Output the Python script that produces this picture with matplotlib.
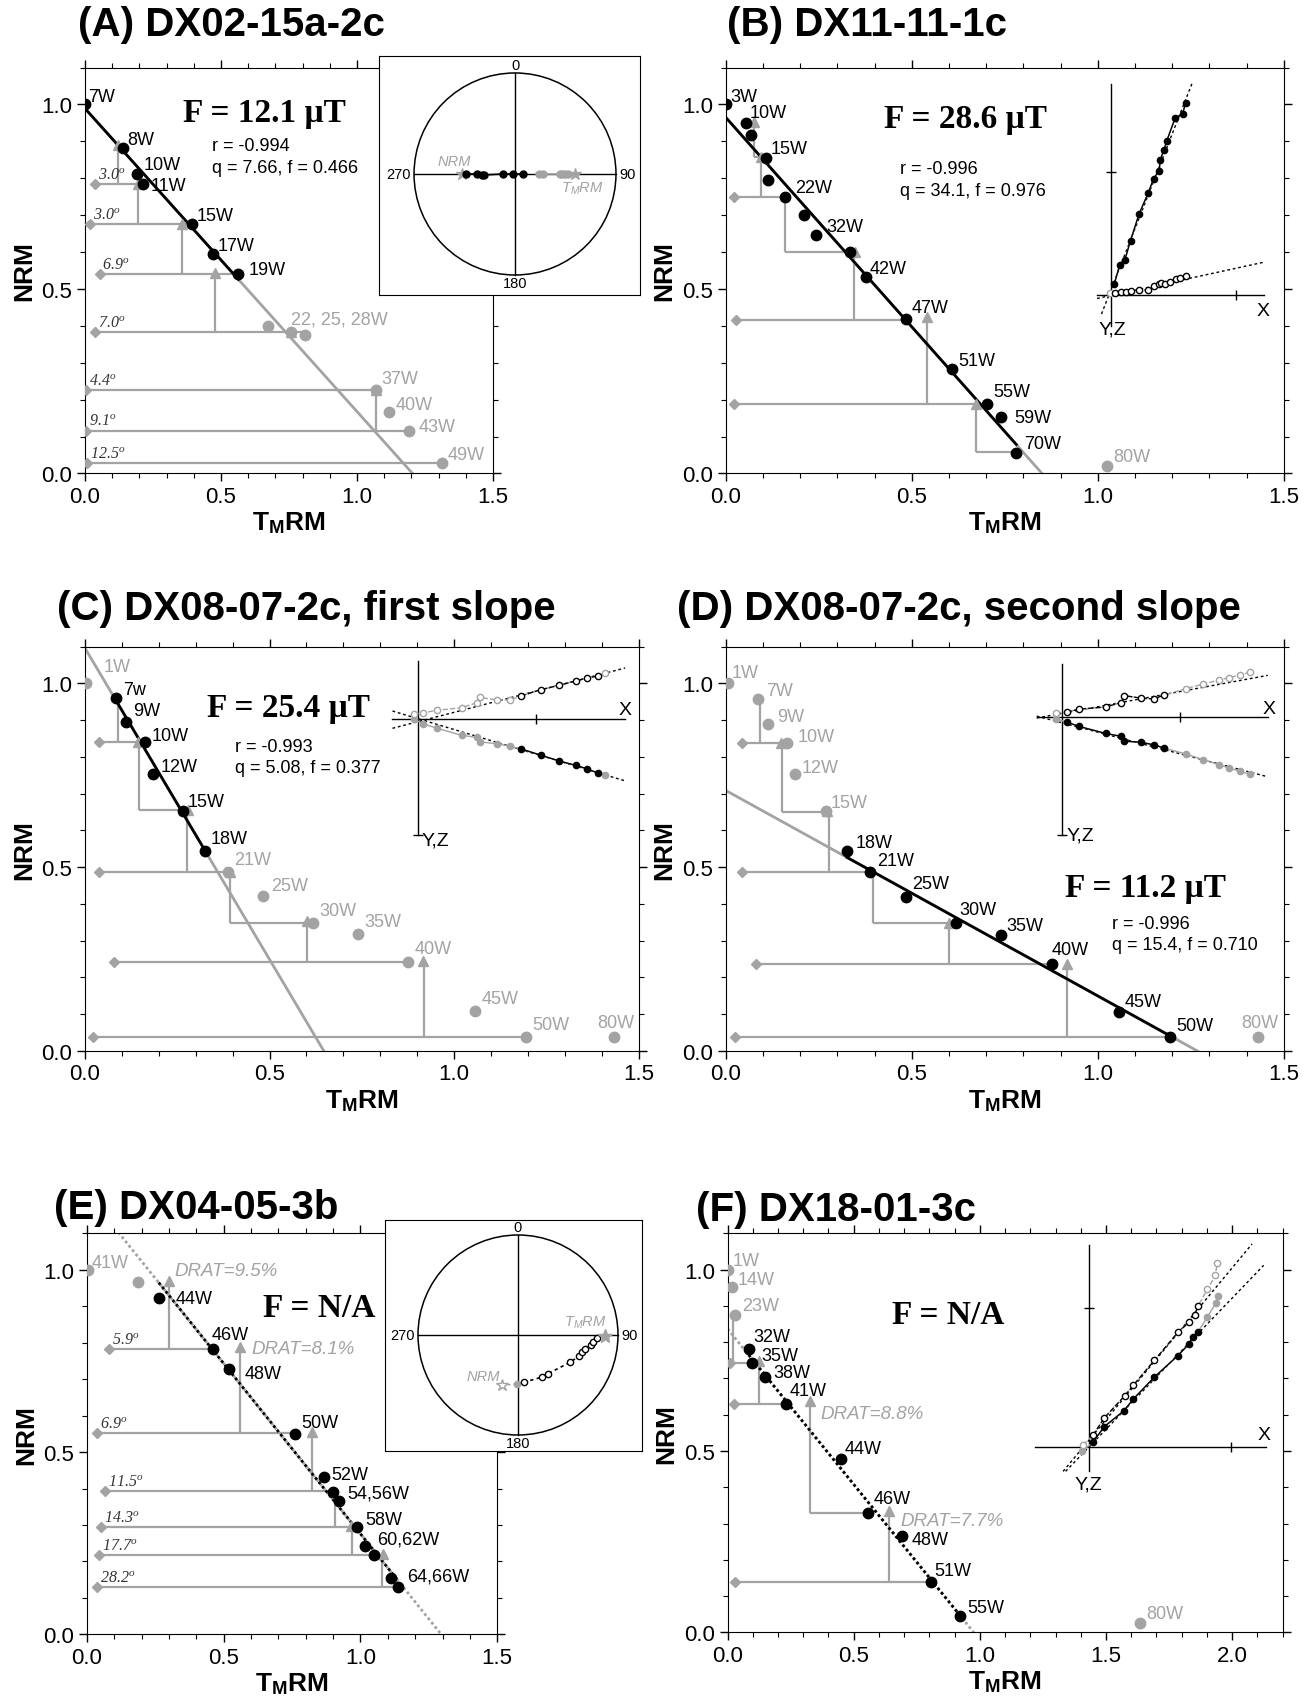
import numpy as np
import matplotlib
matplotlib.use("Agg")
import matplotlib.pyplot as plt
from matplotlib.patches import Circle
from matplotlib.ticker import MultipleLocator, FormatStrFormatter

plt.rcParams["font.family"] = ["Liberation Sans", "DejaVu Sans"]
plt.rcParams["mathtext.fontset"] = "custom"
# digits inside math fall back to "rm": make that the italic serif used for the angle labels
plt.rcParams["mathtext.rm"] = "Liberation Serif:italic"
plt.rcParams["mathtext.it"] = "Liberation Serif:italic"
plt.rcParams["mathtext.bf"] = "Liberation Sans:bold"
plt.rcParams["mathtext.sf"] = "Liberation Sans:italic"

GRAY = "#a3a3a3"
W, H = 1311, 1706

# ---------------- (A) DX02-15a-2c ----------------
a_used_x = [0.0, 0.141, 0.192, 0.212, 0.394, 0.472, 0.564]
a_used_y = [1.0, 0.883, 0.811, 0.783, 0.675, 0.594, 0.540]
a_used_lab = ["7W", "8W", "10W", "11W", "15W", "17W", "19W"]
a_other_x = [0.672, 0.757, 0.810, 1.071, 1.117, 1.193, 1.311]
a_other_y = [0.399, 0.383, 0.374, 0.226, 0.167, 0.116, 0.027]
a_other_lab = ["22, 25, 28W", "", "", "37W", "40W", "43W", "49W"]
a_fit = (0.989, 1.204, [0.0, 0.564])
a_tri_x = [0.120, 0.196, 0.358, 0.479, 0.759, 1.071]
a_tri_y = [0.891, 0.783, 0.675, 0.543, 0.383, 0.226]
a_v_x = [0.120, 0.196, 0.358, 0.479, 1.071]
a_v_y0 = [0.891, 0.783, 0.675, 0.543, 0.226]
a_v_y1 = [0.783, 0.675, 0.540, 0.383, 0.116]
a_h_y = [0.783, 0.675, 0.540, 0.383, 0.226, 0.116, 0.027]
a_h_x0 = [0.038, 0.020, 0.054, 0.038, 0.005, 0.005, 0.008]
a_h_x1 = [0.212, 0.394, 0.564, 0.810, 1.071, 1.193, 1.311]
a_dia_x = [0.038, 0.020, 0.054, 0.038, 0.005, 0.005, 0.008]
a_dia_y = [0.783, 0.675, 0.540, 0.383, 0.226, 0.116, 0.027]
a_dia_lab = ["3.0", "3.0", "6.9", "7.0", "4.4", "9.1", "12.5"]
a_stats = ("F = 12.1 \u03bcT", "r = -0.994", "q = 7.66, f = 0.466")
# stereonet (equal-area projection, unit circle)
a_st_used_x = [-0.49, -0.38, -0.33, -0.31, -0.12, -0.02, 0.08]
a_st_used_y = [0.0, 0.0, -0.01, -0.01, 0.0, 0.0, 0.0]
a_st_other_x = [0.24, 0.28, 0.45, 0.47, 0.50, 0.52]
a_st_other_y = [0.0, 0.0, 0.0, 0.0, 0.0, 0.0]
a_st_nrm = (-0.52, 0.0)
a_st_tmrm = (0.59, 0.0)

# ---------------- (B) DX11-11-1c ----------------
b_used_x = [0.0, 0.054, 0.069, 0.109, 0.115, 0.159, 0.211, 0.244, 0.334, 0.377, 0.484, 0.607, 0.703, 0.741, 0.780]
b_used_y = [1.0, 0.949, 0.916, 0.855, 0.795, 0.748, 0.701, 0.645, 0.601, 0.532, 0.418, 0.283, 0.189, 0.152, 0.055]
b_used_lab = ["3W", "10W", "", "15W", "", "22W", "", "32W", "", "42W", "47W", "51W", "55W", "59W", "70W"]
b_other_x = [1.025]
b_other_y = [0.019]
b_other_lab = ["80W"]
b_fit = (0.965, 0.850, [0.0, 0.781])
b_tri_x = [0.077, 0.094, 0.348, 0.540, 0.674]
b_tri_y = [0.953, 0.858, 0.601, 0.423, 0.189]
b_v_x = [0.077, 0.094, 0.159, 0.346, 0.540, 0.674]
b_v_y0 = [0.953, 0.858, 0.748, 0.601, 0.423, 0.189]
b_v_y1 = [0.858, 0.748, 0.601, 0.416, 0.189, 0.058]
b_h_y = [0.858, 0.748, 0.601, 0.416, 0.187, 0.058]
b_h_x0 = [0.077, 0.023, 0.159, 0.027, 0.023, 0.674]
b_h_x1 = [0.094, 0.159, 0.348, 0.484, 0.703, 0.780]
b_dia_x = [0.023, 0.027, 0.023]
b_dia_y = [0.748, 0.416, 0.187]
b_dia_lab = ["", "", ""]
b_stats = ("F = 28.6 \u03bcT", "r = -0.996", "q = 34.1, f = 0.976")
# orthogonal (Zijderveld) projection
b_zv_x = [1.044, 1.059, 1.073, 1.088, 1.111, 1.136, 1.150, 1.165, 1.168, 1.178, 1.185, 1.208, 1.228, 1.236]
b_zv_y = [0.512, 0.565, 0.579, 0.631, 0.703, 0.761, 0.799, 0.820, 0.850, 0.877, 0.900, 0.963, 0.975, 1.003]
b_zh_x = [1.047, 1.062, 1.075, 1.090, 1.111, 1.136, 1.151, 1.165, 1.170, 1.182, 1.193, 1.210, 1.222, 1.236]
b_zh_y = [0.488, 0.491, 0.492, 0.493, 0.496, 0.498, 0.507, 0.514, 0.516, 0.514, 0.518, 0.526, 0.530, 0.535]
b_z_used = [True] * 14
b_z_origin = (1.033, 0.490)
b_z_fitv = ([1.010, 1.253], [0.432, 1.056])
b_z_fith = ([0.998, 1.447], [0.474, 0.5725])

# ---------------- (C) DX08-07-2c, first slope ----------------
c_used_x = [0.085, 0.112, 0.163, 0.185, 0.266, 0.324]
c_used_y = [0.960, 0.894, 0.841, 0.754, 0.653, 0.545]
c_used_lab = ["7w", "9W", "10W", "12W", "15W", "18W"]
c_other_x = [0.002, 0.387, 0.483, 0.618, 0.739, 0.876, 1.056, 1.195, 1.432]
c_other_y = [1.0, 0.487, 0.421, 0.349, 0.319, 0.241, 0.110, 0.039, 0.039]
c_other_lab = ["1W", "21W", "25W", "30W", "35W", "40W", "45W", "50W", "80W"]
c_fit = (1.096, 0.647, [0.085, 0.324])
c_tri_x = [0.144, 0.279, 0.392, 0.601, 0.916]
c_tri_y = [0.841, 0.655, 0.487, 0.353, 0.246]
c_v_x = [0.090, 0.147, 0.276, 0.392, 0.601, 0.918]
c_v_y0 = [0.960, 0.841, 0.655, 0.487, 0.349, 0.246]
c_v_y1 = [0.841, 0.655, 0.487, 0.349, 0.241, 0.039]
c_h_y = [0.841, 0.655, 0.487, 0.349, 0.241, 0.039]
c_h_x0 = [0.038, 0.147, 0.038, 0.392, 0.079, 0.023]
c_h_x1 = [0.163, 0.285, 0.387, 0.607, 0.876, 1.195]
c_dia_x = [0.038, 0.038, 0.079, 0.023]
c_dia_y = [0.841, 0.487, 0.241, 0.039]
c_dia_lab = ["", "", "", ""]
c_stats = ("F = 25.4 \u03bcT", "r = -0.993", "q = 5.08, f = 0.377")
c_z_x = [0.890, 0.916, 0.954, 1.020, 1.063, 1.070, 1.116, 1.152, 1.181, 1.234, 1.285, 1.330, 1.359, 1.390, 1.410]
c_zv_y = [0.918, 0.920, 0.927, 0.934, 0.948, 0.962, 0.955, 0.955, 0.966, 0.983, 0.995, 1.007, 1.014, 1.021, 1.028]
c_zh_y = [0.903, 0.890, 0.878, 0.859, 0.853, 0.841, 0.836, 0.829, 0.822, 0.805, 0.789, 0.777, 0.768, 0.756, 0.752]
c_z_used = [False] * 8 + [True] * 6 + [False]
c_z_fitv = ([0.833, 1.463], [0.878, 1.042])
c_z_fith = ([0.833, 1.463], [0.925, 0.735])

# ---------------- (D) DX08-07-2c, second slope ----------------
d_used_x = [0.326, 0.389, 0.484, 0.618, 0.741, 0.876, 1.056, 1.194]
d_used_y = [0.545, 0.486, 0.418, 0.347, 0.316, 0.237, 0.105, 0.038]
d_used_lab = ["18W", "21W", "25W", "30W", "35W", "40W", "45W", "50W"]
d_other_x = [0.006, 0.086, 0.115, 0.166, 0.186, 0.269, 1.431]
d_other_y = [1.0, 0.958, 0.890, 0.838, 0.754, 0.653, 0.038]
d_other_lab = ["1W", "7W", "9W", "10W", "12W", "15W", "80W"]
d_fit = (0.709, 1.268, [0.326, 1.194])
d_tri_x = [0.149, 0.271, 0.599, 0.916]
d_tri_y = [0.838, 0.653, 0.349, 0.237]
d_v_x = [0.092, 0.151, 0.277, 0.395, 0.601, 0.916]
d_v_y0 = [0.958, 0.838, 0.653, 0.486, 0.349, 0.237]
d_v_y1 = [0.838, 0.651, 0.486, 0.347, 0.237, 0.038]
d_h_y = [0.838, 0.651, 0.486, 0.347, 0.237, 0.038]
d_h_x0 = [0.044, 0.151, 0.044, 0.395, 0.082, 0.025]
d_h_x1 = [0.166, 0.271, 0.389, 0.601, 0.876, 1.194]
d_dia_x = [0.044, 0.044, 0.082, 0.025]
d_dia_y = [0.838, 0.486, 0.237, 0.038]
d_dia_lab = ["", "", "", ""]
d_stats = ("F = 11.2 \u03bcT", "r = -0.996", "q = 15.4, f = 0.710")
d_z_x = [0.887, 0.916, 0.950, 1.021, 1.063, 1.071, 1.116, 1.151, 1.179, 1.237, 1.282, 1.325, 1.353, 1.382, 1.408]
d_zv_y = [0.920, 0.922, 0.930, 0.936, 0.948, 0.967, 0.960, 0.958, 0.969, 0.986, 0.998, 1.009, 1.016, 1.023, 1.030]
d_zh_y = [0.904, 0.895, 0.883, 0.864, 0.856, 0.843, 0.840, 0.833, 0.824, 0.808, 0.793, 0.779, 0.770, 0.761, 0.753]
d_z_used = [False] + [True] * 8 + [False] * 6
d_z_fitv = ([0.836, 1.457], [0.906, 1.022])
d_z_fith = ([0.836, 1.457], [0.911, 0.746])

# ---------------- (E) DX04-05-3b ----------------
e_used_x = [0.262, 0.462, 0.518, 0.762, 0.865, 0.898, 0.922, 0.988, 1.015, 1.049, 1.111, 1.138]
e_used_y = [0.922, 0.783, 0.728, 0.549, 0.431, 0.390, 0.365, 0.295, 0.241, 0.218, 0.155, 0.130]
e_used_lab = ["44W", "46W", "48W", "50W", "52W", "54,56W", "", "58W", "60,62W", "", "64,66W", ""]
e_other_x = [0.003, 0.185]
e_other_y = [1.0, 0.966]
e_other_lab = ["41W", ""]
e_fit = (1.21, 1.295, [0.262, 1.138])
e_tri_x = [0.300, 0.560, 0.822, 0.965, 1.082]
e_tri_y = [0.970, 0.788, 0.556, 0.298, 0.220]
e_v_x = [0.300, 0.560, 0.823, 0.908, 0.969, 1.080]
e_v_y0 = [0.970, 0.788, 0.556, 0.392, 0.298, 0.220]
e_v_y1 = [0.783, 0.551, 0.392, 0.295, 0.218, 0.130]
e_h_y = [0.783, 0.551, 0.392, 0.295, 0.218, 0.130]
e_h_x0 = [0.080, 0.037, 0.065, 0.052, 0.045, 0.037]
e_h_x1 = [0.462, 0.762, 0.898, 0.988, 1.049, 1.138]
e_dia_x = [0.080, 0.037, 0.065, 0.052, 0.045, 0.037]
e_dia_y = [0.783, 0.551, 0.392, 0.295, 0.218, 0.130]
e_dia_lab = ["5.9", "6.9", "11.5", "14.3", "17.7", "28.2"]
e_drat = ["DRAT=9.5%", "DRAT=8.1%"]
e_st_x = [-0.012, 0.058, 0.236, 0.298, 0.518, 0.609, 0.638, 0.671, 0.725, 0.754, 0.787]
e_st_y = [-0.490, -0.473, -0.422, -0.388, -0.274, -0.213, -0.171, -0.144, -0.103, -0.069, -0.027]
e_st_used = [False] + [True] * 10
e_st_nrm = (-0.157, -0.504)
e_st_tmrm = (0.865, -0.007)

# ---------------- (F) DX18-01-3c ----------------
f_used_x = [0.084, 0.098, 0.148, 0.231, 0.449, 0.556, 0.690, 0.805, 0.921]
f_used_y = [0.780, 0.742, 0.704, 0.631, 0.479, 0.330, 0.265, 0.140, 0.045]
f_used_lab = ["32W", "35W", "38W", "41W", "44W", "46W", "48W", "51W", "55W"]
f_other_x = [0.003, 0.017, 0.029, 1.633]
f_other_y = [1.0, 0.951, 0.875, 0.027]
f_other_lab = ["1W", "14W", "23W", "80W"]
f_fit = (0.837, 0.976, [0.084, 0.921])
f_tri_x = [0.123, 0.325, 0.640]
f_tri_y = [0.747, 0.638, 0.335]
f_v_x = [0.020, 0.123, 0.325, 0.640]
f_v_y0 = [0.875, 0.747, 0.638, 0.335]
f_v_y1 = [0.742, 0.631, 0.330, 0.140]
f_h_y = [0.742, 0.631, 0.330, 0.140]
f_h_x0 = [0.008, 0.025, 0.325, 0.030]
f_h_x1 = [0.098, 0.231, 0.556, 0.805]
f_dia_x = [0.008, 0.025, 0.030]
f_dia_y = [0.742, 0.631, 0.140]
f_dia_lab = ["", "", ""]
f_drat = ["DRAT=8.8%", "DRAT=7.7%"]
f_zv_x = [1.406, 1.448, 1.493, 1.571, 1.608, 1.692, 1.785, 1.830, 1.843, 1.865, 1.902, 1.936, 1.944]
f_zv_y = [0.500, 0.524, 0.567, 0.611, 0.643, 0.704, 0.763, 0.796, 0.815, 0.828, 0.870, 0.908, 0.927]
f_zh_x = [1.409, 1.448, 1.493, 1.574, 1.608, 1.692, 1.785, 1.830, 1.852, 1.864, 1.902, 1.933, 1.941]
f_zh_y = [0.517, 0.543, 0.591, 0.652, 0.681, 0.750, 0.827, 0.856, 0.875, 0.899, 0.946, 0.984, 1.019]
f_z_used = [False] + [True] * 9 + [False] * 3
f_z_fitv = ([1.340, 2.125], [0.444, 1.012])
f_z_fith = ([1.330, 2.079], [0.444, 1.071])

# label nudges (points) relative to each data point
NUDGE = {
    "A": {"7W": (2.5, 6), "8W": (2.5, 6), "10W": (4.5, 7), "11W": (5.5, -1), "15W": (3.5, 6.5),
          "17W": (3, 6.5), "19W": (7, 3), "22, 25, 28W": (17, 5.5), "37W": (3.5, 8.5),
          "40W": (5, 5.5), "43W": (6.5, 3), "49W": (4, 6.5)},
    "B": {"3W": (3.5, 6), "10W": (3, 8), "15W": (3.5, 6.5), "22W": (7.5, 7), "32W": (7, 6.5),
          "42W": (2.5, 6.5), "47W": (4, 8.5), "51W": (5, 6), "55W": (4, 8.5), "59W": (9.5, 0),
          "70W": (6, 7), "80W": (4.5, 7)},
    "C": {"1W": (13, 12), "7w": (5, 6), "9W": (5, 8.5), "10W": (4.5, 4.5), "12W": (5.5, 5),
          "15W": (3.5, 6.5), "18W": (4, 8.5), "21W": (4.5, 9), "25W": (5.5, 8), "30W": (4.5, 8.5),
          "35W": (5, 9), "40W": (4.5, 10), "45W": (5, 8.5), "50W": (4.5, 9), "80W": (-12, 10.5)},
    "D": {"1W": (3, 8), "7W": (6, 6), "9W": (6, 5.5), "10W": (7, 5), "12W": (5, 4.5), "15W": (3.5, 6),
          "18W": (6, 6), "21W": (4.5, 8.5), "25W": (4.5, 10), "30W": (3, 10), "35W": (3.5, 7),
          "40W": (0, 10.5), "45W": (4.5, 8), "50W": (4.5, 8), "80W": (-12, 10.5)},
    "E": {"41W": (2.5, 5.5), "44W": (12.5, 0), "46W": (-1, 10.5), "48W": (11.5, -3), "50W": (4.5, 8.5),
          "52W": (5.5, 2), "54,56W": (10.8, -0.7), "58W": (5.5, 5.5), "60,62W": (9, 5.5),
          "64,66W": (11.4, 1.2)},
    "F": {"1W": (3, 6.5), "14W": (4.5, 6), "23W": (5, 7), "32W": (3, 9), "35W": (6.5, 5.5),
          "38W": (6, 3), "41W": (2.5, 9.5), "44W": (3, 7), "46W": (4.5, 10), "48W": (7.5, -2),
          "51W": (3, 8), "55W": (5.5, 6), "80W": (4.5, 6.5)},
}

fig = plt.figure(figsize=(W / 100, H / 100), dpi=100)


def px_rect(x0, y0, x1, y1):
    return [x0 / W, 1 - y1 / H, (x1 - x0) / W, (y1 - y0) / H]


def make_axes(rect, xmax):
    ax = fig.add_axes(rect)
    ax.set_xlim(0, xmax)
    ax.set_ylim(0, 1.1)
    for axis in (ax.xaxis, ax.yaxis):
        axis.set_major_locator(MultipleLocator(0.5))
        axis.set_minor_locator(MultipleLocator(0.1))
        axis.set_major_formatter(FormatStrFormatter("%.1f"))
    ax.tick_params(which="both", direction="out", top=True, right=True, labelsize=16, pad=3)
    ax.tick_params(which="major", length=6, width=1)
    ax.tick_params(which="minor", length=3.5, width=0.8)
    ax.set_xlabel(r"$\mathbf{T}_{\mathbf{M}}\mathbf{RM}$", fontsize=19, labelpad=2)
    ax.set_ylabel("NRM", fontsize=19, fontweight="bold", labelpad=4)
    return ax


def label_points(ax, xs, ys, labs, color, nudge):
    for x, y, t in zip(xs, ys, labs):
        if not t:
            continue
        dx, dy = nudge.get(t, (4, 6))
        ax.annotate(t, (x, y), xytext=(dx, dy), textcoords="offset points",
                    fontsize=13, color=color, ha="left", va="center", zorder=7)


def arai(ax, key, used_x, used_y, used_lab, other_x, other_y, other_lab, fit, dotted,
         tri_x, tri_y, v_x, v_y0, v_y1, h_y, h_x0, h_x1, dia_x, dia_y, dia_lab):
    y0, xint, span = fit
    ls = (0, (1, 1)) if dotted else "-"
    ax.plot([0, xint], [y0, 0], color=GRAY, lw=2, ls=ls, zorder=2)
    sx = np.array(span)
    ax.plot(sx, y0 * (1 - sx / xint), color="k", lw=2, ls=ls, zorder=3)
    ax.hlines(h_y, h_x0, h_x1, color=GRAY, lw=1.6, zorder=1)
    ax.vlines(v_x, v_y0, v_y1, color=GRAY, lw=1.6, zorder=1)
    ax.plot(tri_x, tri_y, "^", color=GRAY, ms=7, ls="none", zorder=4)
    ax.plot(dia_x, dia_y, "D", color=GRAY, ms=5.5, ls="none", zorder=4)
    for x, y, t in zip(dia_x, dia_y, dia_lab):
        if t:
            ax.annotate(r"$\mathit{%s}^{\mathit{o}}$" % t, (x, y), xytext=(2, 7),
                        textcoords="offset points", fontsize=11.5, color="#333333",
                        ha="left", va="center")
    ax.plot(other_x, other_y, "o", color=GRAY, ms=7.5, ls="none", zorder=5)
    ax.plot(used_x, used_y, "o", color="k", ms=7.5, ls="none", zorder=6)
    label_points(ax, used_x, used_y, used_lab, "k", NUDGE[key])
    label_points(ax, other_x, other_y, other_lab, GRAY, NUDGE[key])


def stats(ax, s, fx, fy, sx, sy):
    ax.text(fx, fy, s[0], fontsize=24, fontweight="bold", family="Liberation Serif",
            ha="center", va="center")
    ax.text(sx, sy, s[1], fontsize=13, ha="left", va="center")
    ax.text(sx, sy - 0.058, s[2], fontsize=13, ha="left", va="center")


def zij_series(ax, xs, ys, used, open_marker, ls):
    xs, ys, used = np.array(xs), np.array(ys), np.array(used)
    ax.plot(xs, ys, color=GRAY, lw=1, ls=ls, zorder=3)
    ax.plot(xs[used], ys[used], color="k", lw=1, ls=ls, zorder=3)
    for mask, col in ((~used, GRAY), (used, "k")):
        ax.plot(xs[mask], ys[mask], "o", ms=4.5, ls="none", zorder=4,
                mfc="white" if open_marker else col, mec=col, mew=1)


def zij_axes(ax, vx, vy, hy, hx, vtick, htick, xlab, yzlab, yz_ha):
    ax.plot([vx, vx], vy, color="k", lw=1, zorder=2)
    ax.plot(hx, [hy, hy], color="k", lw=1, zorder=2)
    ax.plot([vx], [vtick], marker="_", color="k", ms=7, zorder=2)
    ax.plot([htick], [hy], marker="|", color="k", ms=7, zorder=2)
    ax.text(xlab[0], xlab[1], "X", fontsize=14, ha="center", va="center")
    ax.text(yzlab[0], yzlab[1], "Y,Z", fontsize=14, ha=yz_ha, va="center")


def stereonet(rect, xlim, ylim):
    ax = fig.add_axes(rect)
    ax.set_xlim(*xlim)
    ax.set_ylim(*ylim)
    ax.set_xticks([])
    ax.set_yticks([])
    ax.set_facecolor("white")
    ax.add_patch(Circle((0, 0), 1.0, fill=False, lw=1.1, color="k"))
    ax.plot([-1, 1], [0, 0], color="k", lw=1)
    ax.plot([0, 0], [-1, 1], color="k", lw=1)
    ax.text(0, 1.01, "0", fontsize=10.5, ha="center", va="bottom")
    ax.text(1.03, 0, "90", fontsize=10.5, ha="left", va="center")
    ax.text(0, -1.01, "180", fontsize=10.5, ha="center", va="top")
    ax.text(-1.03, 0, "270", fontsize=10.5, ha="right", va="center")
    return ax


TMRM_IT = r"$\mathsf{T}_{\mathsf{M}}\mathsf{RM}$"

# ---- panel A ----
axA = make_axes(px_rect(85, 68.5, 493, 474.4), 1.5)
arai(axA, "A", a_used_x, a_used_y, a_used_lab, a_other_x, a_other_y, a_other_lab, a_fit, False,
     a_tri_x, a_tri_y, a_v_x, a_v_y0, a_v_y1, a_h_y, a_h_x0, a_h_x1, a_dia_x, a_dia_y, a_dia_lab)
stats(axA, a_stats, 0.66, 0.979, 0.468, 0.888)
stA = stereonet(px_rect(379, 57, 640, 296), (-1.347, 1.238), (-1.198, 1.168))
stA.plot(a_st_other_x, a_st_other_y, "-o", color=GRAY, ms=5, lw=1.2)
stA.plot(*a_st_tmrm, "*", color=GRAY, ms=9)
stA.plot(*a_st_nrm, "*", color=GRAY, ms=9)
stA.plot(a_st_used_x, a_st_used_y, "-o", color="k", ms=5, lw=1.2)
stA.text(-0.60, 0.13, "NRM", fontsize=10.5, color=GRAY, style="italic", ha="center", va="center")
stA.text(0.67, -0.14, TMRM_IT, fontsize=10.5, color=GRAY, ha="center", va="center")

# ---- panel B ----
axB = make_axes(px_rect(725.7, 68.5, 1283.8, 474.4), 1.5)
arai(axB, "B", b_used_x, b_used_y, b_used_lab, b_other_x, b_other_y, b_other_lab, b_fit, False,
     b_tri_x, b_tri_y, b_v_x, b_v_y0, b_v_y1, b_h_y, b_h_x0, b_h_x1, b_dia_x, b_dia_y, b_dia_lab)
stats(axB, b_stats, 0.644, 0.961, 0.469, 0.825)
zij_axes(axB, 1.035, [0.40, 1.054], 0.484, [0.998, 1.447], 0.816, 1.371, (1.445, 0.441), (1.039, 0.392), "center")
axB.plot(*b_z_fitv, color="k", lw=1, ls=(0, (2, 2)))
axB.plot(*b_z_fith, color="k", lw=1, ls=(0, (2, 2)))
zij_series(axB, b_zv_x, b_zv_y, b_z_used, False, "-")
zij_series(axB, b_zh_x, b_zh_y, b_z_used, True, "--")
axB.plot(*b_z_origin, "o", ms=4.5, mfc="white", mec=GRAY)

# ---- panel C ----
axC = make_axes(px_rect(85, 647.7, 638.7, 1052), 1.5)
arai(axC, "C", c_used_x, c_used_y, c_used_lab, c_other_x, c_other_y, c_other_lab, c_fit, False,
     c_tri_x, c_tri_y, c_v_x, c_v_y0, c_v_y1, c_h_y, c_h_x0, c_h_x1, c_dia_x, c_dia_y, c_dia_lab)
stats(axC, c_stats, 0.55, 0.934, 0.407, 0.829)
zij_axes(axC, 0.901, [0.588, 1.061], 0.903, [0.833, 1.463], 0.588, 1.221, (1.463, 0.930), (0.912, 0.574), "left")
axC.plot(*c_z_fitv, color="k", lw=1, ls=(0, (2, 2)))
axC.plot(*c_z_fith, color="k", lw=1, ls=(0, (2, 2)))
zij_series(axC, c_z_x, c_zh_y, c_z_used, False, "-")
zij_series(axC, c_z_x, c_zv_y, c_z_used, True, "--")

# ---- panel D ----
axD = make_axes(px_rect(725.7, 647.7, 1283.8, 1052), 1.5)
arai(axD, "D", d_used_x, d_used_y, d_used_lab, d_other_x, d_other_y, d_other_lab, d_fit, False,
     d_tri_x, d_tri_y, d_v_x, d_v_y0, d_v_y1, d_h_y, d_h_x0, d_h_x1, d_dia_x, d_dia_y, d_dia_lab)
stats(axD, d_stats, 1.128, 0.446, 1.039, 0.347)
zij_axes(axD, 0.905, [0.587, 1.052], 0.908, [0.836, 1.457], 0.587, 1.220, (1.460, 0.932), (0.915, 0.587), "left")
axD.plot(*d_z_fitv, color="k", lw=1, ls=(0, (2, 2)))
axD.plot(*d_z_fith, color="k", lw=1, ls=(0, (2, 2)))
zij_series(axD, d_z_x, d_zh_y, d_z_used, False, "-")
zij_series(axD, d_z_x, d_zv_y, d_z_used, True, "--")

# ---- panel E ----
axE = make_axes(px_rect(87, 1234.4, 497.2, 1635.3), 1.5)
arai(axE, "E", e_used_x, e_used_y, e_used_lab, e_other_x, e_other_y, e_other_lab, e_fit, True,
     e_tri_x, e_tri_y, e_v_x, e_v_y0, e_v_y1, e_h_y, e_h_x0, e_h_x1, e_dia_x, e_dia_y, e_dia_lab)
axE.text(0.849, 0.897, "F = N/A", fontsize=24, fontweight="bold", family="Liberation Serif",
         ha="center", va="center")
for (x, y), t in zip([(0.319, 0.998), (0.603, 0.783)], e_drat):
    axE.text(x, y, t, fontsize=13.5, color=GRAY, style="italic", ha="left", va="center")
stE = stereonet(px_rect(385, 1221.4, 642, 1451.7), (-1.33, 1.24), (-1.157, 1.146))
e_x, e_y, e_u = np.array(e_st_x), np.array(e_st_y), np.array(e_st_used)
stE.plot([e_st_nrm[0], e_x[0], e_x[1]], [e_st_nrm[1], e_y[0], e_y[1]], color=GRAY, lw=1, ls=(0, (2, 2)))
stE.plot([e_x[-1], e_st_tmrm[0]], [e_y[-1], e_st_tmrm[1]], color=GRAY, lw=1, ls=(0, (2, 2)))
stE.plot(e_x[e_u], e_y[e_u], color="k", lw=1.2, ls=(0, (2, 2)))
stE.plot(e_x[~e_u], e_y[~e_u], "o", ms=4.5, color=GRAY)
stE.plot(e_x[e_u], e_y[e_u], "o", ms=4.5, mfc="white", mec="k", ls="none")
stE.plot(*e_st_nrm, "*", ms=9, mfc="white", mec=GRAY)
stE.plot(*e_st_tmrm, "*", ms=10, color=GRAY)
stE.text(-0.35, -0.41, "NRM", fontsize=10.5, color=GRAY, style="italic", ha="center", va="center")
stE.text(0.67, 0.13, TMRM_IT, fontsize=10.5, color=GRAY, ha="center", va="center")

# ---- panel F ----
axF = make_axes(px_rect(727.5, 1234.4, 1282.6, 1633.4), 2.2)
arai(axF, "F", f_used_x, f_used_y, f_used_lab, f_other_x, f_other_y, f_other_lab, f_fit, True,
     f_tri_x, f_tri_y, f_v_x, f_v_y0, f_v_y1, f_h_y, f_h_x0, f_h_x1, f_dia_x, f_dia_y, f_dia_lab)
axF.text(0.875, 0.877, "F = N/A", fontsize=24, fontweight="bold", family="Liberation Serif",
         ha="center", va="center")
for (x, y), t in zip([(0.367, 0.603), (0.687, 0.309)], f_drat):
    axF.text(x, y, t, fontsize=13.5, color=GRAY, style="italic", ha="left", va="center")
zij_axes(axF, 1.431, [0.444, 1.069], 0.510, [1.217, 2.135], 0.894, 1.995, (2.126, 0.545), (1.431, 0.410), "center")
axF.plot(*f_z_fitv, color="k", lw=1, ls=(0, (2, 2)))
axF.plot(*f_z_fith, color="k", lw=1, ls=(0, (2, 2)))
zij_series(axF, f_zv_x, f_zv_y, f_z_used, False, "-")
zij_series(axF, f_zh_x, f_zh_y, f_z_used, True, "--")

# ---- panel titles ----
titles = ["(A) DX02-15a-2c", "(B) DX11-11-1c", "(C) DX08-07-2c, first slope",
          "(D) DX08-07-2c, second slope", "(E) DX04-05-3b", "(F) DX18-01-3c"]
title_xy = [(78, 25), (727, 25), (57, 609), (677, 609), (54, 1208), (696, 1210)]
for t, (x, y) in zip(titles, title_xy):
    fig.text(x / W, 1 - y / H, t, fontsize=29, fontweight="bold", ha="left", va="center")

fig.savefig("out.png", dpi=100)
